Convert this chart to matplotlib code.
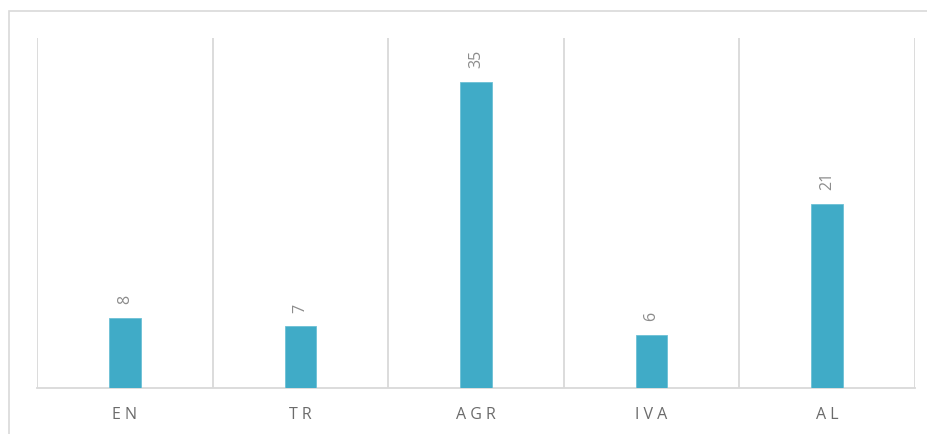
import matplotlib
matplotlib.use("Agg")
import matplotlib.pyplot as plt
from matplotlib.patches import Rectangle

categories = ["EN", "TR", "AGR", "IVA", "AL"]
values = [8, 7, 35, 6, 21]

plt.rcParams['font.family'] = ['Open Sans', 'DejaVu Sans']

W, H = 928, 435
fig = plt.figure(figsize=(W / 100, H / 100), dpi=100)

# outer chart border
fig.patches.append(Rectangle((9 / W, -0.05), 1.1, (H - 12) / H + 0.05,
                             transform=fig.transFigure, fill=False,
                             edgecolor="#d9d9d9", linewidth=1.2))

ax = fig.add_axes([37 / W, (H - 388.5) / H, (915 - 37) / W, (388.5 - 39) / H])
x = list(range(len(categories)))
bar_color = "#40abc7"
ax.bar(x, values, width=0.18, color=bar_color, edgecolor="#6cc0d6", linewidth=0.6, zorder=3)

ax.set_xlim(-0.5, len(categories) - 0.5)
ax.set_ylim(0, 40)

for b in [i - 0.5 for i in range(len(categories) + 1)]:
    ax.axvline(b, color="#d9d9d9", linewidth=1.3, zorder=1)

for s in ["top", "left", "right"]:
    ax.spines[s].set_visible(False)
ax.spines["bottom"].set_color("#d9d9d9")
ax.spines["bottom"].set_linewidth(1.3)
ax.set_yticks([])
ax.set_xticks(x)
ax.set_xticklabels([" ".join(c) for c in categories], color="#6b6b6b", fontsize=11.5)
ax.tick_params(axis="x", length=0, pad=13)

for xi, v in zip(x, values):
    ax.annotate(str(v), (xi, v), xytext=(0, 10.5), textcoords="offset points",
                rotation=90, ha="center", va="bottom", color="#8c8c8c", fontsize=11.5)

fig.savefig("out.png", dpi=100)
